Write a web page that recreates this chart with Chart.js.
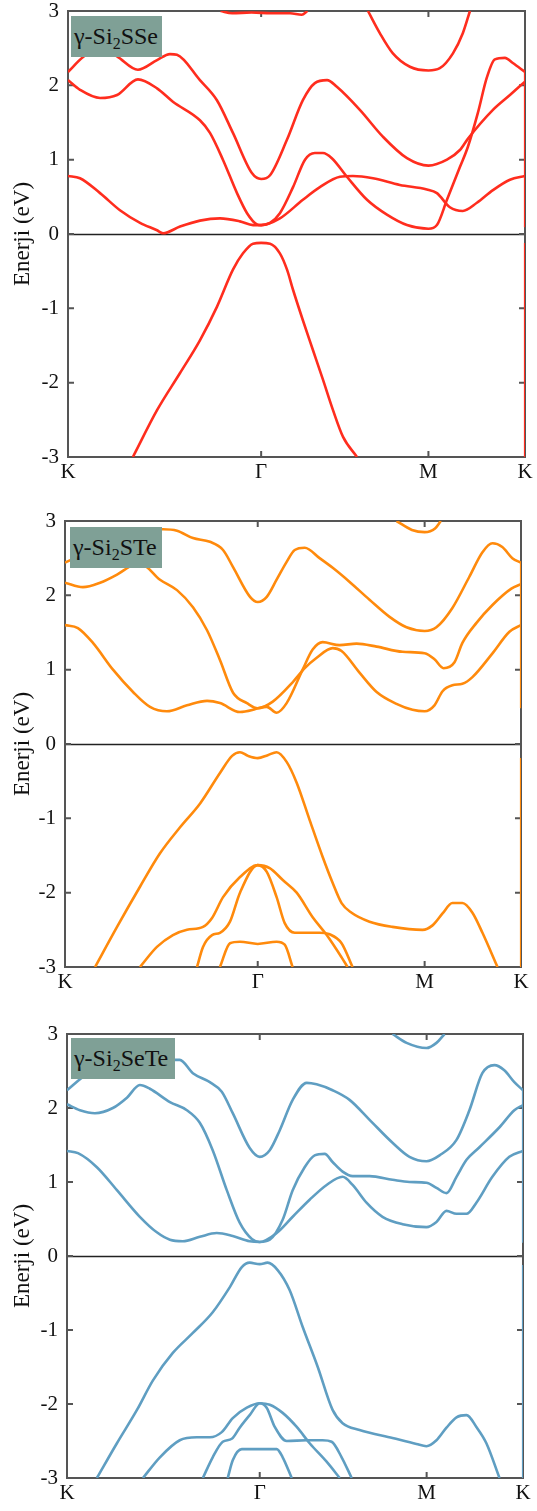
<!DOCTYPE html>
<html>
<head>
<meta charset="utf-8">
<script src="https://cdn.jsdelivr.net/npm/chart.js@4.4.1/dist/chart.umd.min.js"></script>
<style>
  body { margin: 0; background: #fff; width: 537px; height: 1511px; position: relative; overflow: hidden; }
  .panel { position: absolute; left: 0; }
  .tag {
    position: absolute; background: #7fa096; color: #111;
    font-family: "Liberation Serif", "DejaVu Serif", serif; font-size: 24px;
    line-height: 41px; padding-left: 3px; box-sizing: border-box; white-space: nowrap;
  }
  .tag sub { font-size: 16px; vertical-align: -5px; line-height: 0; }
</style>
</head>
<body>

<div class="panel" style="top:0px"><canvas id="sse" width="537" height="490"></canvas></div>
<div class="panel" style="top:510px"><canvas id="ste" width="537" height="490"></canvas></div>
<div class="panel" style="top:1023px"><canvas id="sete" width="537" height="488"></canvas></div>

<div class="tag" style="left:71px;top:16px;width:91px;height:41px">γ-Si<sub>2</sub>SSe</div>
<div class="tag" style="left:70px;top:527px;width:92px;height:41px">γ-Si<sub>2</sub>STe</div>
<div class="tag" style="left:71px;top:1038px;width:104px;height:41px">γ-Si<sub>2</sub>SeTe</div>

<script>
// k-path: K - Γ - M - K  (ΓK = 1)
const kTicks = [0, 1, 1.866, 2.366];
const kLabels = ['K', 'Γ', 'M', 'K'];
const eTicks = [-3, -2, -1, 0, 1, 2, 3];

// ---- γ-Si2SSe bands [k, E(eV)]
const sseV1 = [[0.336,-3.0],[0.461,-2.37],[0.58,-1.87],[0.683,-1.43],[0.771,-0.98],[0.854,-0.48],[0.906,-0.26],[0.958,-0.13],[1.0,-0.12],[1.046,-0.13],[1.097,-0.26],[1.134,-0.48],[1.165,-0.75],[1.216,-1.16],[1.268,-1.56],[1.32,-1.96],[1.372,-2.37],[1.424,-2.73],[1.496,-3.0]];
const sseC1 = [[0,0.78],[0.062,0.75],[0.166,0.55],[0.269,0.32],[0.373,0.15],[0.461,0.05],[0.492,0.01],[0.58,0.1],[0.683,0.18],[0.787,0.21],[0.89,0.17],[0.958,0.12],[1.0,0.12],[1.097,0.21],[1.216,0.46],[1.304,0.63],[1.408,0.77],[1.475,0.78],[1.579,0.75],[1.718,0.66],[1.858,0.6],[1.91,0.55],[1.977,0.36],[2.044,0.31],[2.117,0.42],[2.2,0.59],[2.288,0.73],[2.366,0.78]];
const sseC2 = [[0,2.07],[0.062,1.94],[0.166,1.83],[0.254,1.87],[0.362,2.08],[0.461,1.96],[0.543,1.78],[0.683,1.53],[0.735,1.36],[0.802,1.0],[0.875,0.55],[0.927,0.28],[0.978,0.13],[1.0,0.12],[1.046,0.15],[1.097,0.28],[1.165,0.63],[1.227,1.0],[1.278,1.09],[1.32,1.09],[1.366,1.02],[1.444,0.77],[1.548,0.46],[1.651,0.26],[1.755,0.12],[1.866,0.07],[1.91,0.12],[1.962,0.46],[2.029,0.9],[2.07,1.17],[2.122,1.63],[2.169,2.11],[2.21,2.35],[2.262,2.37],[2.303,2.30],[2.366,2.18]];
const sseC3 = [[0,2.18],[0.078,2.38],[0.166,2.52],[0.254,2.39],[0.362,2.21],[0.461,2.34],[0.528,2.42],[0.564,2.41],[0.683,2.07],[0.771,1.80],[0.854,1.36],[0.952,0.82],[1.0,0.74],[1.046,0.79],[1.134,1.27],[1.216,1.80],[1.278,2.03],[1.341,2.07],[1.392,1.98],[1.511,1.67],[1.63,1.31],[1.755,1.02],[1.866,0.92],[1.962,1.0],[2.029,1.13],[2.07,1.28],[2.2,1.67],[2.288,1.87],[2.366,2.05]];
const sseC4 = [[0.79,3.0],[0.85,2.97],[0.95,2.98],[1.05,2.97],[1.15,2.97],[1.21,2.95],[1.24,3.0]];
const sseC5 = [[1.553,3.0],[1.615,2.7],[1.682,2.43],[1.77,2.25],[1.866,2.2],[1.925,2.23],[1.993,2.43],[2.044,2.7],[2.081,3.0]];
const sseEdge = [[2.366,2.18],[2.366,0.09],[2.366,null],[2.366,-0.12],[2.366,-3.0]];

// ---- γ-Si2STe
const steV1 = [[0.156,-3.0],[0.27,-2.46],[0.389,-1.92],[0.493,-1.47],[0.597,-1.12],[0.701,-0.8],[0.804,-0.39],[0.867,-0.16],[0.908,-0.11],[0.95,-0.16],[1.0,-0.19],[1.052,-0.15],[1.098,-0.11],[1.15,-0.24],[1.202,-0.52],[1.269,-1.02],[1.337,-1.52],[1.389,-1.87],[1.435,-2.14],[1.487,-2.27],[1.58,-2.39],[1.699,-2.46],[1.855,-2.5],[1.907,-2.44],[1.959,-2.28],[2.01,-2.14],[2.062,-2.14],[2.114,-2.27],[2.166,-2.54],[2.244,-3.0]];
const steV2 = [[0.389,-3.0],[0.477,-2.73],[0.56,-2.57],[0.633,-2.50],[0.716,-2.46],[0.763,-2.34],[0.82,-2.06],[0.908,-1.79],[1.0,-1.63],[1.062,-1.67],[1.13,-1.83],[1.202,-2.0],[1.285,-2.33],[1.358,-2.57],[1.435,-2.87],[1.466,-3.0]];
const steV3 = [[0.685,-3.0],[0.716,-2.73],[0.763,-2.57],[0.804,-2.54],[0.856,-2.39],[0.908,-2.0],[1.0,-1.63],[1.047,-1.72],[1.098,-2.06],[1.14,-2.41],[1.192,-2.54],[1.321,-2.54],[1.373,-2.56],[1.435,-2.68],[1.492,-3.0]];
const steV4 = [[0.804,-3.0],[0.856,-2.68],[0.908,-2.66],[1.0,-2.69],[1.098,-2.66],[1.14,-2.7],[1.181,-3.0]];
const steC1 = [[0,1.60],[0.067,1.56],[0.145,1.36],[0.249,1.0],[0.353,0.70],[0.441,0.50],[0.529,0.44],[0.633,0.52],[0.737,0.58],[0.804,0.55],[0.908,0.43],[0.976,0.46],[1.0,0.48],[1.047,0.50],[1.098,0.42],[1.15,0.55],[1.233,1.0],[1.285,1.27],[1.337,1.37],[1.425,1.33],[1.513,1.35],[1.617,1.31],[1.751,1.24],[1.866,1.22],[1.917,1.14],[1.964,1.02],[2.021,1.1],[2.062,1.36],[2.135,1.63],[2.218,1.87],[2.316,2.09],[2.366,2.15]];
const steC2 = [[0,2.17],[0.093,2.11],[0.182,2.17],[0.27,2.28],[0.353,2.41],[0.389,2.43],[0.493,2.21],[0.581,2.07],[0.664,1.84],[0.737,1.53],[0.804,1.13],[0.872,0.69],[0.944,0.55],[1.0,0.48],[1.078,0.57],[1.181,0.83],[1.244,1.02],[1.306,1.16],[1.389,1.29],[1.435,1.25],[1.528,0.96],[1.617,0.70],[1.72,0.54],[1.803,0.46],[1.866,0.44],[1.917,0.52],[1.959,0.71],[2.01,0.79],[2.062,0.81],[2.114,0.9],[2.218,1.22],[2.306,1.51],[2.366,1.60]];
const steC3 = [[0,2.44],[0.15,2.62],[0.3,2.8],[0.45,2.88],[0.509,2.89],[0.581,2.87],[0.664,2.77],[0.752,2.72],[0.82,2.61],[0.872,2.38],[0.96,1.98],[1.0,1.91],[1.047,1.98],[1.098,2.21],[1.15,2.45],[1.192,2.61],[1.244,2.64],[1.321,2.50],[1.389,2.37],[1.477,2.18],[1.58,1.94],[1.684,1.71],[1.772,1.57],[1.866,1.52],[1.927,1.57],[2.01,1.83],[2.098,2.25],[2.166,2.58],[2.218,2.70],[2.269,2.65],[2.321,2.50],[2.366,2.44]];
const steC4 = [[1.72,3.0],[1.80,2.88],[1.866,2.85],[1.92,2.9],[1.95,3.0]];
const steEdge = [[2.366,2.44],[2.366,0.48],[2.366,null],[2.366,-0.19],[2.366,-3.0]];

// ---- γ-Si2SeTe
const seteV1 = [[0.155,-3.0],[0.259,-2.53],[0.363,-2.08],[0.446,-1.68],[0.549,-1.31],[0.653,-1.04],[0.756,-0.76],[0.845,-0.42],[0.907,-0.15],[0.948,-0.09],[1.0,-0.11],[1.041,-0.09],[1.093,-0.19],[1.155,-0.46],[1.223,-0.96],[1.301,-1.5],[1.378,-2.08],[1.43,-2.26],[1.518,-2.35],[1.689,-2.46],[1.813,-2.54],[1.865,-2.57],[1.917,-2.49],[1.969,-2.32],[2.021,-2.18],[2.073,-2.15],[2.124,-2.31],[2.176,-2.53],[2.244,-3.0]];
const seteV2 = [[0.394,-3.0],[0.482,-2.72],[0.585,-2.49],[0.674,-2.45],[0.741,-2.45],[0.803,-2.38],[0.86,-2.19],[0.933,-2.05],[1.0,-1.99],[1.052,-2.01],[1.119,-2.12],[1.192,-2.31],[1.259,-2.53],[1.347,-2.78],[1.415,-3.0]];
const seteV3 = [[0.705,-3.0],[0.756,-2.72],[0.808,-2.51],[0.855,-2.47],[0.896,-2.32],[0.948,-2.15],[1.0,-1.99],[1.036,-2.05],[1.078,-2.31],[1.14,-2.5],[1.244,-2.49],[1.326,-2.49],[1.373,-2.51],[1.425,-2.72],[1.477,-3.0]];
const seteV4 = [[0.834,-3.0],[0.86,-2.76],[0.907,-2.61],[1.0,-2.61],[1.088,-2.61],[1.119,-2.72],[1.166,-3.0]];
const seteC1 = [[0,1.42],[0.057,1.39],[0.155,1.2],[0.259,0.89],[0.378,0.53],[0.466,0.32],[0.534,0.22],[0.601,0.2],[0.689,0.26],[0.777,0.31],[0.86,0.27],[0.948,0.2],[1.0,0.19],[1.052,0.22],[1.119,0.49],[1.171,0.89],[1.233,1.2],[1.285,1.36],[1.337,1.38],[1.378,1.27],[1.43,1.14],[1.482,1.08],[1.57,1.08],[1.689,1.03],[1.777,1.0],[1.865,0.99],[1.917,0.92],[1.969,0.85],[2.021,1.07],[2.073,1.3],[2.14,1.47],[2.244,1.74],[2.321,1.97],[2.366,2.04]];
const seteC2 = [[0,2.05],[0.067,1.97],[0.145,1.93],[0.238,2.0],[0.311,2.14],[0.378,2.31],[0.43,2.26],[0.534,2.08],[0.622,1.97],[0.689,1.8],[0.756,1.43],[0.829,0.89],[0.896,0.45],[0.959,0.23],[1.0,0.19],[1.088,0.31],[1.171,0.53],[1.259,0.76],[1.347,0.96],[1.43,1.07],[1.482,0.96],[1.554,0.72],[1.637,0.53],[1.741,0.43],[1.865,0.39],[1.917,0.46],[1.969,0.61],[2.021,0.57],[2.073,0.57],[2.124,0.72],[2.207,1.07],[2.295,1.34],[2.366,1.42]];
const seteC3 = [[0,2.24],[0.1,2.45],[0.25,2.62],[0.4,2.72],[0.5,2.68],[0.56,2.65],[0.585,2.65],[0.653,2.47],[0.741,2.35],[0.803,2.22],[0.86,1.93],[0.948,1.46],[1.0,1.34],[1.052,1.43],[1.104,1.7],[1.171,2.11],[1.244,2.34],[1.295,2.32],[1.378,2.24],[1.466,2.11],[1.57,1.84],[1.689,1.53],[1.777,1.34],[1.865,1.28],[1.933,1.36],[2.021,1.57],[2.088,1.97],[2.155,2.47],[2.218,2.58],[2.269,2.51],[2.321,2.35],[2.366,2.24]];
const seteC4 = [[1.689,3.0],[1.762,2.88],[1.865,2.81],[1.917,2.88],[1.959,3.0]];
const seteEdge = [[2.366,2.24],[2.366,0.18],[2.366,null],[2.366,-0.12],[2.366,-3.0]];

const serif = "'Liberation Serif', 'DejaVu Serif', serif";

// frame, inward ticks and the E = 0 line
const framePlugin = {
  id: 'frame',
  beforeDatasetsDraw(chart) {
    const { ctx, chartArea: a, scales: { x, y } } = chart;
    ctx.save();
    ctx.strokeStyle = '#222';
    ctx.lineWidth = 1.3;
    const y0 = Math.round(y.getPixelForValue(0)) + 0.5;
    ctx.beginPath(); ctx.moveTo(a.left, y0); ctx.lineTo(a.right, y0); ctx.stroke();

    ctx.strokeStyle = '#555';
    ctx.lineWidth = 2;
    ctx.strokeRect(a.left, a.top, a.right - a.left, a.bottom - a.top);
    ctx.beginPath();
    eTicks.forEach(v => {
      const py = y.getPixelForValue(v);
      ctx.moveTo(a.left, py); ctx.lineTo(a.left + 6, py);
      ctx.moveTo(a.right, py); ctx.lineTo(a.right - 6, py);
    });
    kTicks.slice(1, 3).forEach(v => {
      const px = x.getPixelForValue(v);
      ctx.moveTo(px, a.top); ctx.lineTo(px, a.top + 6);
      ctx.moveTo(px, a.bottom); ctx.lineTo(px, a.bottom - 6);
    });
    ctx.stroke();
    ctx.restore();
  }
};

function makePanel(id, bands, edge, color, yWidth, padRight) {
  const datasets = bands.map(b => ({
    data: b.map(p => ({ x: p[0], y: p[1] })),
    borderColor: color, borderWidth: 2.6, pointRadius: 0, tension: 0.3,
    cubicInterpolationMode: 'monotone', fill: false
  }));
  datasets.push({
    data: edge.map(p => ({ x: p[0], y: p[1] })),
    borderColor: color, borderWidth: 2.2, pointRadius: 0, tension: 0, spanGaps: false
  });

  new Chart(document.getElementById(id), {
    type: 'line',
    data: { datasets },
    plugins: [framePlugin],
    options: {
      responsive: false,
      animation: false,
      devicePixelRatio: 1,
      layout: { padding: { top: 11, right: padRight, left: 0, bottom: 0 } },
      plugins: { legend: { display: false }, tooltip: { enabled: false } },
      scales: {
        x: {
          type: 'linear', min: 0, max: kTicks[3],
          grid: { display: false, drawTicks: false }, border: { display: false },
          afterBuildTicks: s => { s.ticks = kTicks.map(v => ({ value: v })); },
          afterFit: s => { s.height = 33; s.paddingLeft = 0; s.paddingRight = 0; },
          ticks: {
            autoSkip: false, maxRotation: 0, padding: 3, color: '#111',
            font: { family: serif, size: 21 },
            callback: (v, i) => kLabels[i]
          }
        },
        y: {
          min: -3, max: 3,
          grid: { display: false, drawTicks: false }, border: { display: false },
          afterBuildTicks: s => { s.ticks = eTicks.map(v => ({ value: v })); },
          afterFit: s => { s.width = yWidth; s.paddingTop = 0; s.paddingBottom = 0; },
          ticks: { padding: 9, color: '#111', font: { family: serif, size: 21 } },
          title: {
            display: true, text: 'Enerji (eV)', color: '#111',
            font: { family: serif, size: 23 }, padding: { top: 9, bottom: 0 }
          }
        }
      }
    }
  });
}

makePanel('sse', [sseV1, sseC1, sseC2, sseC3, sseC4, sseC5], sseEdge, '#ff2d1e', 68, 12);
makePanel('ste', [steV1, steV2, steV3, steV4, steC1, steC2, steC3, steC4], steEdge, '#ff8a0c', 65, 16);
makePanel('sete', [seteV1, seteV2, seteV3, seteV4, seteC1, seteC2, seteC3, seteC4], seteEdge, '#5f9ec2', 67, 14);
</script>
</body>
</html>
